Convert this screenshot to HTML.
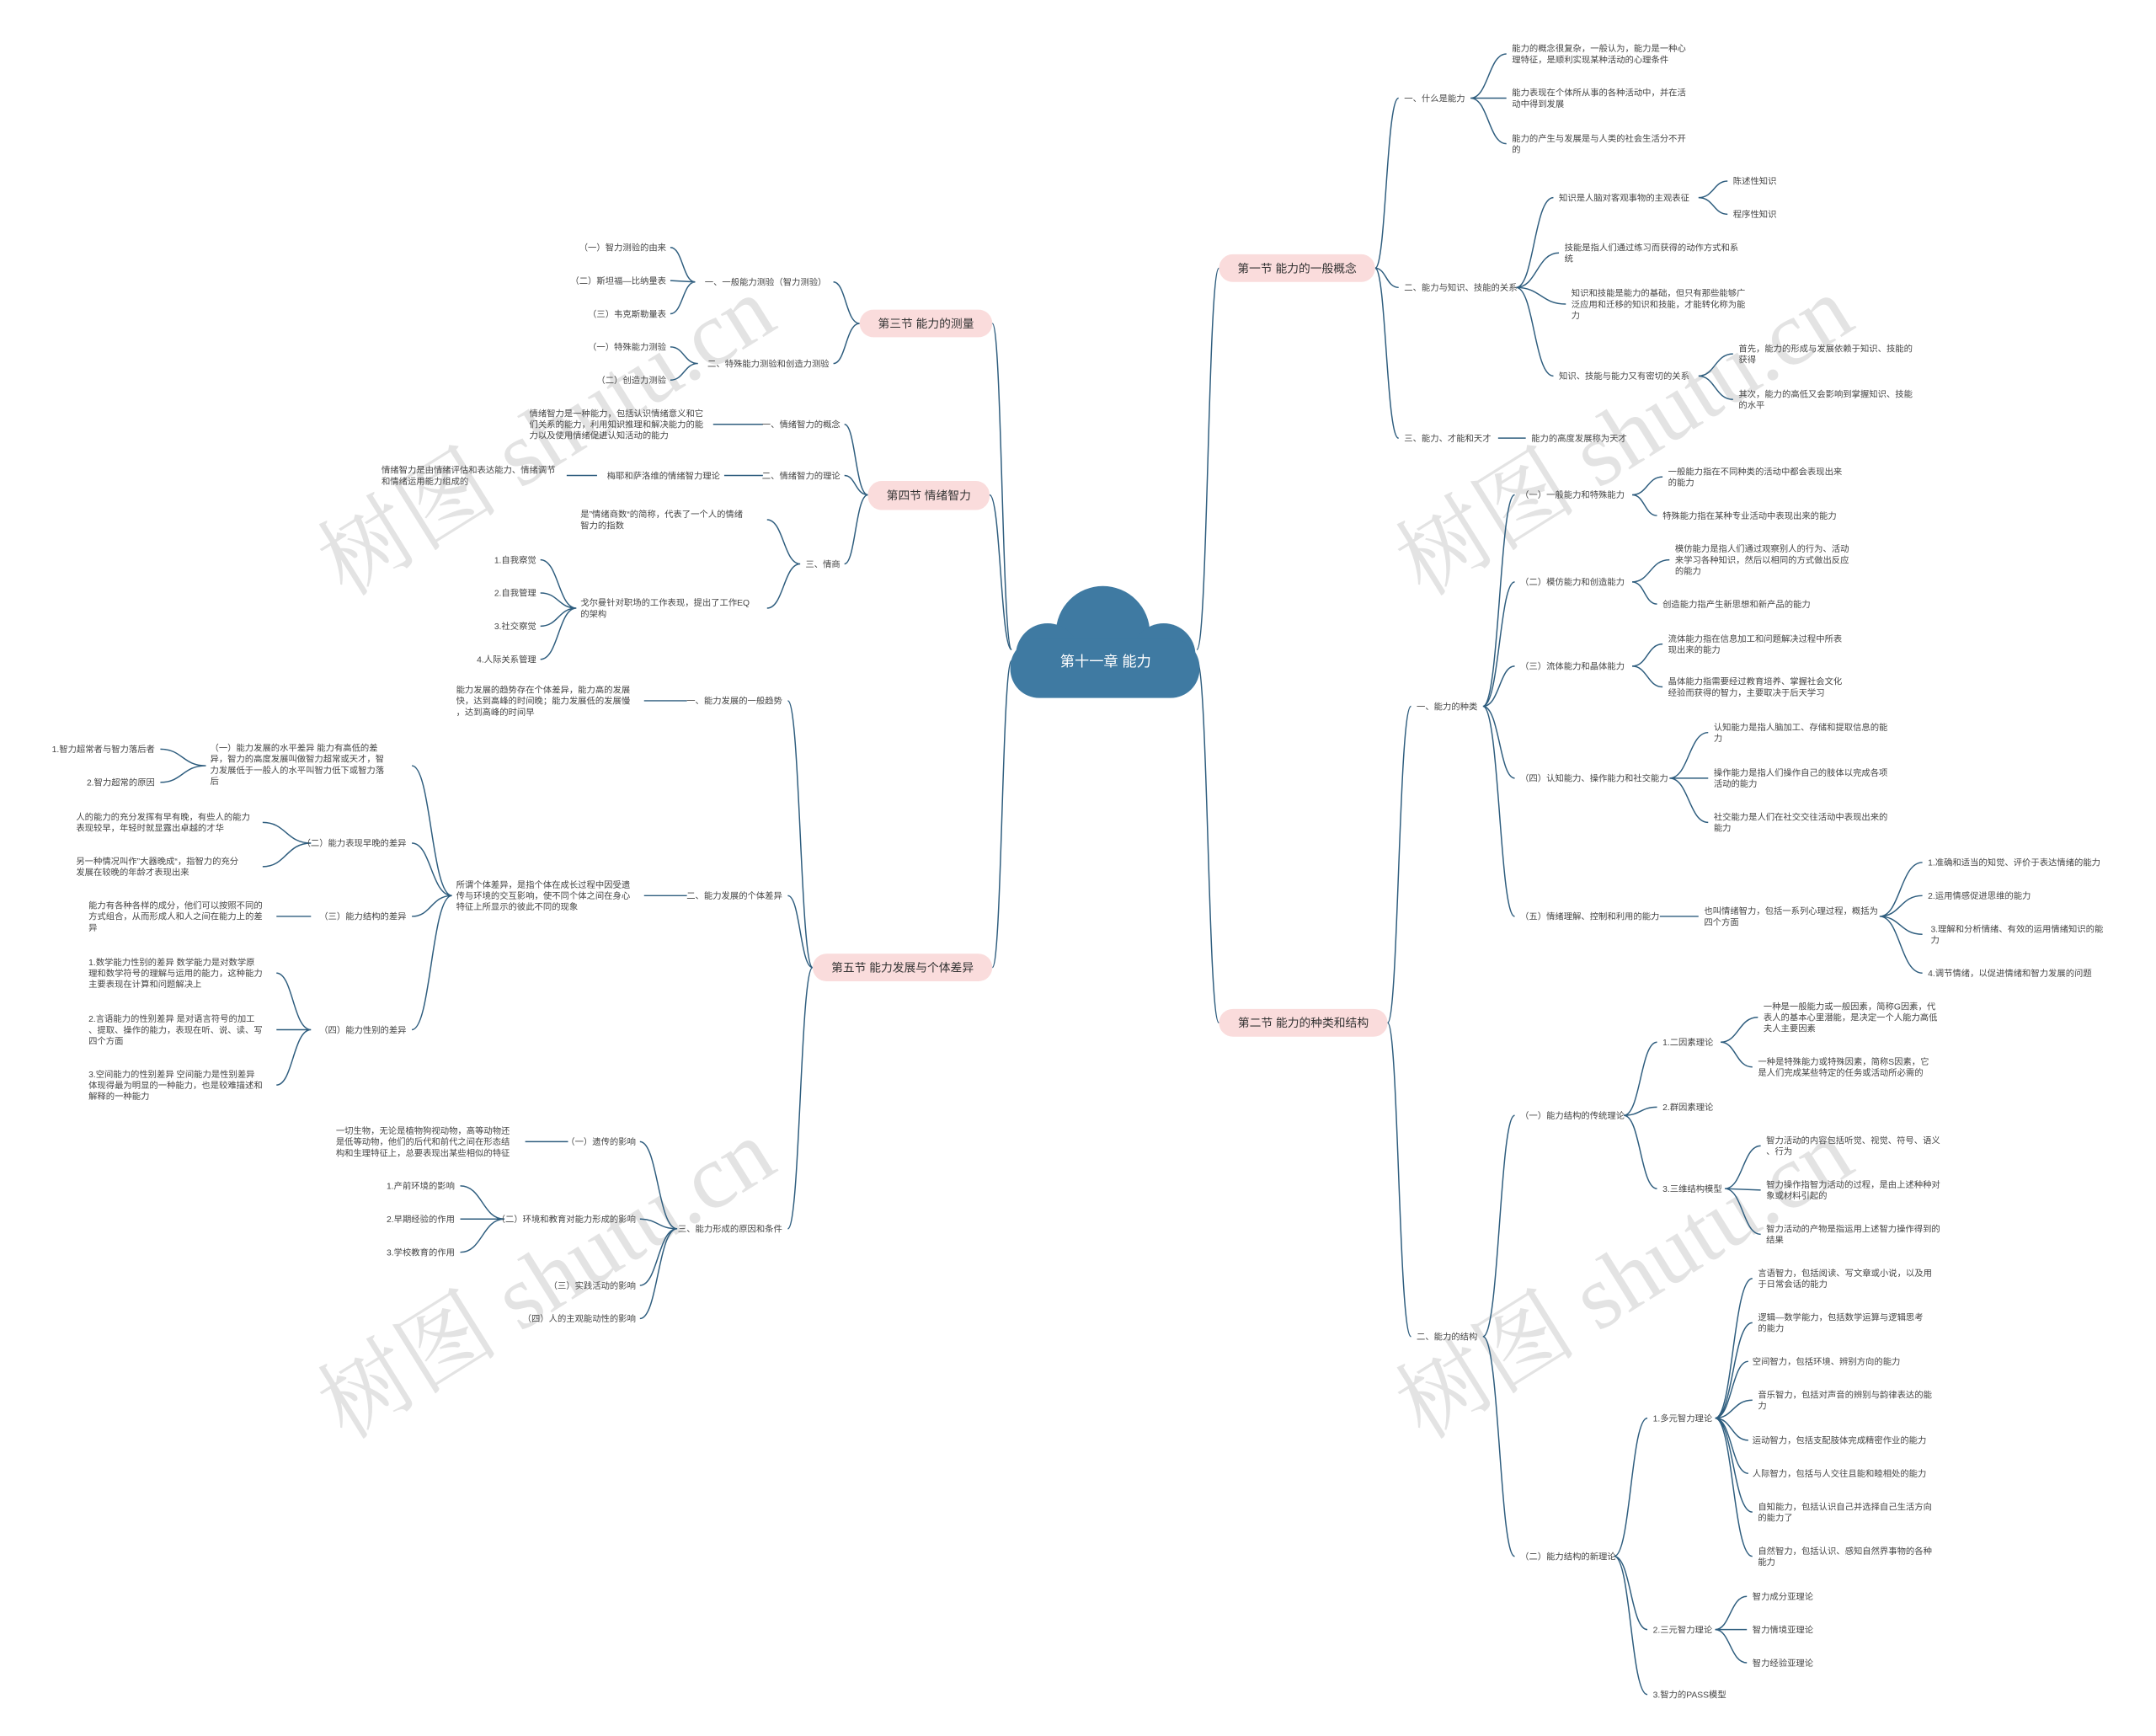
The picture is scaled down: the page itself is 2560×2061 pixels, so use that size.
<!DOCTYPE html>
<html><head><meta charset="utf-8"><style>
html,body{margin:0;padding:0;background:#fff;}
svg{display:block;}
text{font-family:"Liberation Sans","Noto Sans CJK SC",sans-serif;fill:#454545;font-size:6.3px;}
.s{font-size:8.4px;fill:#333;}
.c{font-size:10.5px;fill:#fff;}
.w{font-family:"Liberation Serif","Noto Serif CJK SC",serif;font-size:66px;fill:#c8c8c8;opacity:.5;}
path{fill:none;stroke:#2e5d7e;stroke-width:0.9;}
</style></head><body>
<svg width="2560" height="2061" viewBox="0 0 1560 1256" xmlns="http://www.w3.org/2000/svg">
<text class="w" x="395" y="338" text-anchor="middle" transform="rotate(-32 395 315)">树图 shutu.cn</text>
<text class="w" x="1175" y="338" text-anchor="middle" transform="rotate(-32 1175 315)">树图 shutu.cn</text>
<text class="w" x="395" y="948" text-anchor="middle" transform="rotate(-32 395 925)">树图 shutu.cn</text>
<text class="w" x="1175" y="948" text-anchor="middle" transform="rotate(-32 1175 925)">树图 shutu.cn</text>

<path d="
M866,470 C874,470 874,194 882,194
M866,478 C874,478 874,740 882,740
M995,194 C1003,194 1003,71 1012,71
M995,194 C1003,194 1003,208 1012,208
M995,194 C1003,194 1003,317 1012,317
M1064,71 C1077,71 1077,39 1090,39
M1064,71 C1077,71 1077,71 1090,71
M1064,71 C1077,71 1077,104 1090,104
M1097,208 C1110,208 1110,143 1124,143
M1097,208 C1112,208 1112,183 1128,183
M1097,208 C1115,208 1115,220 1133,220
M1097,208 C1110,208 1110,272 1124,272
M1229,143 C1240,143 1240,131 1250,131
M1229,143 C1240,143 1240,155 1250,155
M1229,272 C1241,272 1241,256 1254,256
M1229,272 C1241,272 1241,289 1254,289
M1084,317 L1104,317
M1004,740 C1012,740 1012,511 1021,511
M1004,740 C1012,740 1012,967 1021,967
M1073,511 C1085,511 1085,358 1096,358
M1073,511 C1085,511 1085,421 1096,421
M1073,511 C1085,511 1085,482 1096,482
M1073,511 C1085,511 1085,563 1096,563
M1073,511 C1085,511 1085,663 1096,663
M1181,358 C1192,358 1192,345 1203,345
M1181,358 C1190,358 1190,373 1199,373
M1181,421 C1194,421 1194,405 1208,405
M1181,421 C1190,421 1190,437 1199,437
M1181,482 C1192,482 1192,466 1203,466
M1181,482 C1192,482 1192,497 1203,497
M1208,563 C1222,563 1222,530 1236,530
M1208,563 L1236,563
M1208,563 C1222,563 1222,595 1236,595
M1201,663 L1229,663
M1360,663 C1375,663 1375,624 1391,624
M1360,663 C1375,663 1375,648 1391,648
M1360,663 C1375,663 1375,676 1391,676
M1360,663 C1375,663 1375,704 1391,704
M1073,967 C1085,967 1085,807 1096,807
M1073,967 C1085,967 1085,1126 1096,1126
M1175,807 C1187,807 1187,754 1199,754
M1175,807 C1187,807 1187,801 1199,801
M1175,807 C1187,807 1187,860 1199,860
M1245,754 C1258,754 1258,736 1272,736
M1245,754 C1256,754 1256,772 1268,772
M1248,860 C1261,860 1261,829 1274,829
M1248,860 L1274,861
M1248,860 C1261,860 1261,893 1274,893
M1168,1126 C1180,1126 1180,1026 1192,1026
M1168,1126 C1180,1126 1180,1179 1192,1179
M1168,1126 C1180,1126 1180,1226 1192,1226
M1241,1026 C1254,1026 1254,925 1268,925
M1241,1026 C1254,1026 1254,957 1268,957
M1241,1026 C1253,1026 1253,985 1265,985
M1241,1026 C1254,1026 1254,1013 1268,1013
M1241,1026 C1253,1026 1253,1042 1265,1042
M1241,1026 C1253,1026 1253,1066 1265,1066
M1241,1026 C1254,1026 1254,1094 1268,1094
M1241,1026 C1254,1026 1254,1126 1268,1126
M1241,1179 C1252,1179 1252,1155 1264,1155
M1241,1179 L1264,1179
M1241,1179 C1252,1179 1252,1203 1264,1203

M732,470 C725,470 725,234 718,234
M732,470 C724,470 724,358 716,358
M732,478 C725,478 725,700 718,700
M622,234 C612,234 612,204 603,204
M622,234 C612,234 612,263 603,263
M503,204 C494,204 494,179 485,179
M503,204 L485,203
M503,204 C494,204 494,227 485,227
M505,263 C495,263 495,251 485,251
M505,263 C495,263 495,275 485,275
M628,358 C619,358 619,307 611,307
M628,358 C619,358 619,344 611,344
M628,358 C619,358 619,408 611,408
M552,307 L516,307
M552,344 L524,344
M432,344 L410,344
M579,408 C567,408 567,376 555,376
M579,408 C567,408 567,440 555,440
M417,440 C404,440 404,405 391,405
M417,440 C404,440 404,429 391,429
M417,440 C404,440 404,453 391,453
M417,440 C404,440 404,477 391,477
M588,700 C579,700 579,507 570,507
M588,700 C579,700 579,648 570,648
M588,700 C579,700 579,889 570,889
M497,507 L466,507
M497,648 L466,648
M327,648 C312,648 312,554 298,554
M327,648 C312,648 312,610 298,610
M327,648 C312,648 312,663 298,663
M327,648 C312,648 312,745 298,745
M149,554 C132,554 132,542 116,542
M149,554 C132,554 132,566 116,566
M225,610 C207,610 207,595 190,595
M225,610 C207,610 207,627 190,627
M225,663 L200,663
M225,745 C212,745 212,704 200,704
M225,745 L200,745
M225,745 C212,745 212,785 200,785
M490,889 C476,889 476,826 463,826
M490,889 C476,889 476,882 463,882
M490,889 C476,889 476,930 463,930
M490,889 C476,889 476,954 463,954
M411,826 L380,826
M365,882 C349,882 349,858 333,858
M365,882 L333,882
M365,882 C349,882 349,906 333,906
"/>

<g fill="#3f7aa2">
<circle cx="798" cy="458" r="34"/>
<circle cx="758" cy="474" r="23"/>
<circle cx="842" cy="474" r="23"/>
<rect x="731" y="462" width="137" height="43" rx="21"/>
</g>
<text class="c" x="800" y="482" text-anchor="middle">第十一章 能力</text>

<g fill="#fadcdc">
<rect x="882" y="184" width="113" height="20" rx="10"/>
<rect x="882" y="730" width="122" height="20" rx="10"/>
<rect x="622" y="224" width="96" height="20" rx="10"/>
<rect x="628" y="348" width="88" height="21" rx="10"/>
<rect x="588" y="690" width="130" height="20" rx="10"/>
</g>
<text class="s" x="938.5" y="197" text-anchor="middle">第一节 能力的一般概念</text>
<text class="s" x="943" y="743" text-anchor="middle">第二节 能力的种类和结构</text>
<text class="s" x="670" y="237" text-anchor="middle">第三节 能力的测量</text>
<text class="s" x="672" y="361.5" text-anchor="middle">第四节 情绪智力</text>
<text class="s" x="653" y="703" text-anchor="middle">第五节 能力发展与个体差异</text>

<text x="1016" y="73.3">一、什么是能力</text>
<text x="1094" y="37.3">能力的概念很复杂，一般认为，能力是一种心<tspan x="1094" dy="8">理特征，是顺利实现某种活动的心理条件</tspan></text>
<text x="1094" y="69.3">能力表现在个体所从事的各种活动中，并在活<tspan x="1094" dy="8">动中得到发展</tspan></text>
<text x="1094" y="102.3">能力的产生与发展是与人类的社会生活分不开<tspan x="1094" dy="8">的</tspan></text>
<text x="1016" y="210.3">二、能力与知识、技能的关系</text>
<text x="1128" y="145.3">知识是人脑对客观事物的主观表征</text>
<text x="1254" y="133.3">陈述性知识</text>
<text x="1254" y="157.3">程序性知识</text>
<text x="1132" y="181.3">技能是指人们通过练习而获得的动作方式和系<tspan x="1132" dy="8">统</tspan></text>
<text x="1137" y="214.3">知识和技能是能力的基础，但只有那些能够广<tspan x="1137" dy="8">泛应用和迁移的知识和技能，才能转化称为能</tspan><tspan x="1137" dy="8">力</tspan></text>
<text x="1128" y="274.3">知识、技能与能力又有密切的关系</text>
<text x="1258" y="254.3">首先，能力的形成与发展依赖于知识、技能的<tspan x="1258" dy="8">获得</tspan></text>
<text x="1258" y="287.3">其次，能力的高低又会影响到掌握知识、技能<tspan x="1258" dy="8">的水平</tspan></text>
<text x="1016" y="319.3">三、能力、才能和天才</text>
<text x="1108" y="319.3">能力的高度发展称为天才</text>

<text x="1025" y="513.3">一、能力的种类</text>
<text x="1100" y="360.3">（一）一般能力和特殊能力</text>
<text x="1207" y="343.3">一般能力指在不同种类的活动中都会表现出来<tspan x="1207" dy="8">的能力</tspan></text>
<text x="1203" y="375.3">特殊能力指在某种专业活动中表现出来的能力</text>
<text x="1100" y="423.3">（二）模仿能力和创造能力</text>
<text x="1212" y="399.3">模仿能力是指人们通过观察别人的行为、活动<tspan x="1212" dy="8">来学习各种知识，然后以相同的方式做出反应</tspan><tspan x="1212" dy="8">的能力</tspan></text>
<text x="1203" y="439.3">创造能力指产生新思想和新产品的能力</text>
<text x="1100" y="484.3">（三）流体能力和晶体能力</text>
<text x="1207" y="464.3">流体能力指在信息加工和问题解决过程中所表<tspan x="1207" dy="8">现出来的能力</tspan></text>
<text x="1207" y="495.3">晶体能力指需要经过教育培养、掌握社会文化<tspan x="1207" dy="8">经验而获得的智力，主要取决于后天学习</tspan></text>
<text x="1100" y="565.3">（四）认知能力、操作能力和社交能力</text>
<text x="1240" y="528.3">认知能力是指人脑加工、存储和提取信息的能<tspan x="1240" dy="8">力</tspan></text>
<text x="1240" y="561.3">操作能力是指人们操作自己的肢体以完成各项<tspan x="1240" dy="8">活动的能力</tspan></text>
<text x="1240" y="593.3">社交能力是人们在社交交往活动中表现出来的<tspan x="1240" dy="8">能力</tspan></text>
<text x="1100" y="665.3">（五）情绪理解、控制和利用的能力</text>
<text x="1233" y="661.3">也叫情绪智力，包括一系列心理过程，概括为<tspan x="1233" dy="8">四个方面</tspan></text>
<text x="1395" y="626.3">1.准确和适当的知觉、评价于表达情绪的能力</text>
<text x="1395" y="650.3">2.运用情感促进思维的能力</text>
<text x="1397" y="674.3">3.理解和分析情绪、有效的运用情绪知识的能<tspan x="1397" dy="8">力</tspan></text>
<text x="1395" y="706.3">4.调节情绪，以促进情绪和智力发展的问题</text>

<text x="1025" y="969.3">二、能力的结构</text>
<text x="1100" y="809.3">（一）能力结构的传统理论</text>
<text x="1203" y="756.3">1.二因素理论</text>
<text x="1276" y="730.3">一种是一般能力或一般因素，简称G因素，代<tspan x="1276" dy="8">表人的基本心里潜能，是决定一个人能力高低</tspan><tspan x="1276" dy="8">夫人主要因素</tspan></text>
<text x="1272" y="770.3">一种是特殊能力或特殊因素，简称S因素，它<tspan x="1272" dy="8">是人们完成某些特定的任务或活动所必需的</tspan></text>
<text x="1203" y="803.3">2.群因素理论</text>
<text x="1203" y="862.3">3.三维结构模型</text>
<text x="1278" y="827.3">智力活动的内容包括听觉、视觉、符号、语义<tspan x="1278" dy="8">、行为</tspan></text>
<text x="1278" y="859.3">智力操作指智力活动的过程，是由上述种种对<tspan x="1278" dy="8">象或材料引起的</tspan></text>
<text x="1278" y="891.3">智力活动的产物是指运用上述智力操作得到的<tspan x="1278" dy="8">结果</tspan></text>
<text x="1100" y="1128.3">（二）能力结构的新理论</text>
<text x="1196" y="1028.3">1.多元智力理论</text>
<text x="1272" y="923.3">言语智力，包括阅读、写文章或小说，以及用<tspan x="1272" dy="8">于日常会话的能力</tspan></text>
<text x="1272" y="955.3">逻辑—数学能力，包括数学运算与逻辑思考<tspan x="1272" dy="8">的能力</tspan></text>
<text x="1268" y="987.3">空间智力，包括环境、辨别方向的能力</text>
<text x="1272" y="1011.3">音乐智力，包括对声音的辨别与韵律表达的能<tspan x="1272" dy="8">力</tspan></text>
<text x="1268" y="1044.3">运动智力，包括支配肢体完成精密作业的能力</text>
<text x="1268" y="1068.3">人际智力，包括与人交往且能和睦相处的能力</text>
<text x="1272" y="1092.3">自知能力，包括认识自己并选择自己生活方向<tspan x="1272" dy="8">的能力了</tspan></text>
<text x="1272" y="1124.3">自然智力，包括认识、感知自然界事物的各种<tspan x="1272" dy="8">能力</tspan></text>
<text x="1196" y="1181.3">2.三元智力理论</text>
<text x="1268" y="1157.3">智力成分亚理论</text>
<text x="1268" y="1181.3">智力情境亚理论</text>
<text x="1268" y="1205.3">智力经验亚理论</text>
<text x="1196" y="1228.3">3.智力的PASS模型</text>

<g text-anchor="end">
<text x="598" y="206.3">一、一般能力测验（智力测验）</text>
<text x="482" y="181.3">（一）智力测验的由来</text>
<text x="482" y="205.3">（二）斯坦福—比纳量表</text>
<text x="482" y="229.3">（三）韦克斯勒量表</text>
<text x="600" y="265.3">二、特殊能力测验和创造力测验</text>
<text x="482" y="253.3">（一）特殊能力测验</text>
<text x="482" y="277.3">（二）创造力测验</text>
<text x="608" y="309.3">一、情绪智力的概念</text>
<text x="608" y="346.3">二、情绪智力的理论</text>
<text x="521" y="346.3">梅耶和萨洛维的情绪智力理论</text>
<text x="608" y="410.3">三、情商</text>
<text x="388" y="407.3">1.自我察觉</text>
<text x="388" y="431.3">2.自我管理</text>
<text x="388" y="455.3">3.社交察觉</text>
<text x="388" y="479.3">4.人际关系管理</text>
<text x="566" y="509.3">一、能力发展的一般趋势</text>
<text x="566" y="650.3">二、能力发展的个体差异</text>
<text x="112" y="544.3">1.智力超常者与智力落后者</text>
<text x="112" y="568.3">2.智力超常的原因</text>
<text x="294" y="612.3">（二）能力表现早晚的差异</text>
<text x="294" y="665.3">（三）能力结构的差异</text>
<text x="294" y="747.3">（四）能力性别的差异</text>
<text x="566" y="891.3">三、能力形成的原因和条件</text>
<text x="460" y="828.3">（一）遗传的影响</text>
<text x="460" y="884.3">（二）环境和教育对能力形成的影响</text>
<text x="329" y="860.3">1.产前环境的影响</text>
<text x="329" y="884.3">2.早期经验的作用</text>
<text x="329" y="908.3">3.学校教育的作用</text>
<text x="460" y="932.3">（三）实践活动的影响</text>
<text x="460" y="956.3">（四）人的主观能动性的影响</text>
</g>
<text x="383" y="301.3">情绪智力是一种能力，包括认识情绪意义和它<tspan x="383" dy="8">们关系的能力，利用知识推理和解决能力的能</tspan><tspan x="383" dy="8">力以及使用情绪促进认知活动的能力</tspan></text>
<text x="276" y="342.3">情绪智力是由情绪评估和表达能力、情绪调节<tspan x="276" dy="8">和情绪运用能力组成的</tspan></text>
<text x="420" y="374.3">是”情绪商数“的简称，代表了一个人的情绪<tspan x="420" dy="8">智力的指数</tspan></text>
<text x="420" y="438.3">戈尔曼针对职场的工作表现，提出了工作EQ<tspan x="420" dy="8">的架构</tspan></text>
<text x="330" y="501.3">能力发展的趋势存在个体差异，能力高的发展<tspan x="330" dy="8">快，达到高峰的时间晚；能力发展低的发展慢</tspan><tspan x="330" dy="8">，达到高峰的时间早</tspan></text>
<text x="330" y="642.3">所谓个体差异，是指个体在成长过程中因受遗<tspan x="330" dy="8">传与环境的交互影响，使不同个体之间在身心</tspan><tspan x="330" dy="8">特征上所显示的彼此不同的现象</tspan></text>
<text x="152" y="543.3">（一）能力发展的水平差异 能力有高低的差<tspan x="152" dy="8">异，智力的高度发展叫做智力超常或天才，智</tspan><tspan x="152" dy="8">力发展低于一般人的水平叫智力低下或智力落</tspan><tspan x="152" dy="8">后</tspan></text>
<text x="55" y="593.3">人的能力的充分发挥有早有晚，有些人的能力<tspan x="55" dy="8">表现较早，年轻时就显露出卓越的才华</tspan></text>
<text x="55" y="625.3">另一种情况叫作”大器晚成“，指智力的充分<tspan x="55" dy="8">发展在较晚的年龄才表现出来</tspan></text>
<text x="64" y="657.3">能力有各种各样的成分，他们可以按照不同的<tspan x="64" dy="8">方式组合，从而形成人和人之间在能力上的差</tspan><tspan x="64" dy="8">异</tspan></text>
<text x="64" y="698.3">1.数学能力性别的差异  数学能力是对数学原<tspan x="64" dy="8">理和数学符号的理解与运用的能力，这种能力</tspan><tspan x="64" dy="8">主要表现在计算和问题解决上</tspan></text>
<text x="64" y="739.3">2.言语能力的性别差异  是对语言符号的加工<tspan x="64" dy="8">、提取、操作的能力，表现在听、说、读、写</tspan><tspan x="64" dy="8">四个方面</tspan></text>
<text x="64" y="779.3">3.空间能力的性别差异  空间能力是性别差异<tspan x="64" dy="8">体现得最为明显的一种能力，也是较难描述和</tspan><tspan x="64" dy="8">解释的一种能力</tspan></text>
<text x="243" y="820.3">一切生物，无论是植物狗视动物，高等动物还<tspan x="243" dy="8">是低等动物，他们的后代和前代之间在形态结</tspan><tspan x="243" dy="8">构和生理特征上，总要表现出某些相似的特征</tspan></text>
</svg>
</body></html>
